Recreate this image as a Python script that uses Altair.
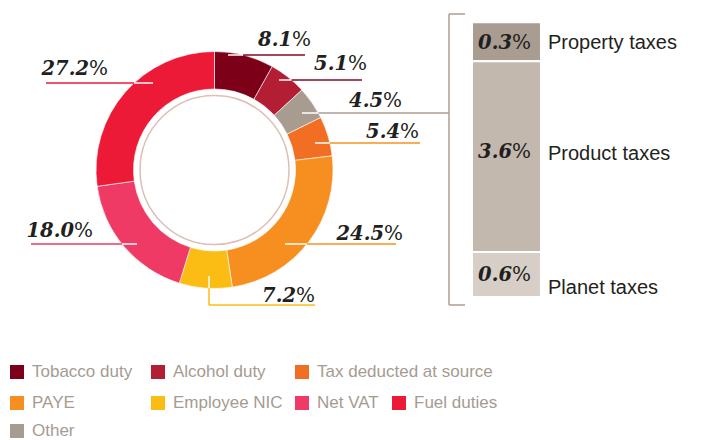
import math
import altair as alt
import pandas as pd

# ---------------- data ----------------
donut_categories = ["Tobacco duty", "Alcohol duty", "Other", "Tax deducted at source",
                    "PAYE", "Employee NIC", "Net VAT", "Fuel duties"]
donut_values = [8.1, 5.1, 4.5, 5.4, 24.5, 7.2, 18.0, 27.2]

other_categories = ["Property taxes", "Product taxes", "Planet taxes"]
other_values = [0.3, 3.6, 0.6]

legend_order = ["Tobacco duty", "Alcohol duty", "Tax deducted at source",
                "PAYE", "Employee NIC", "Net VAT", "Fuel duties", "Other"]

# ---------------- styles / layout ----------------
slice_colors = {
    "Tobacco duty": "#7d0019",
    "Alcohol duty": "#b41e34",
    "Other": "#a89b90",
    "Tax deducted at source": "#f26e22",
    "PAYE": "#f68f1f",
    "Employee NIC": "#fbbd13",
    "Net VAT": "#ee3a64",
    "Fuel duties": "#ed1a37",
}
line_colors = {
    "Tobacco duty": "#860a22",
    "Alcohol duty": "#860a22",
    "Other": "#a89e94",
    "Tax deducted at source": "#f6921e",
    "PAYE": "#f6921e",
    "Employee NIC": "#fbbd13",
    "Net VAT": "#ee3a64",
    "Fuel duties": "#ed1a37",
}
bar_colors = ["#a99c91", "#c2b8ad", "#d7cfc7"]

M = 8  # page margin; layout numbers below are page coordinates
W, H = 690, 432
CX, CY = 214.5 - M, 170 - M
R_OUT, R_IN, R_RING = 118.5, 81, 74.5
NUM_FONT = "DejaVu Serif"
SANS = "Liberation Sans"
DARK = "#231f20"
GREY_TXT = "#a59b92"
GREY_LINE = "#a89e94"

# leader layout: category, side, line y, anchor x, far end x, text right x, text baseline
leaders = [
    ("Tobacco duty", 1, 55, 228, 305, 311, 46),
    ("Alcohol duty", 1, 80, 279, 362, 367, 70),
    ("Other", 1, 113, 302, 449, 402, 107),
    ("Tax deducted at source", 1, 143, 315, 420, 419, 138),
    ("PAYE", 1, 244, 285, 396, 403, 240),
    ("Net VAT", -1, 244, 137, 31, 93, 237),
    ("Fuel duties", -1, 83, 153, 46, 108, 75),
]
nic_layout = dict(x=209, y0=276, y1=305, xend=315, text_right=315, baseline=302)

value_of = dict(zip(donut_categories, donut_values))

# ---------------- donut ----------------
donut_df = pd.DataFrame({
    "cat": donut_categories,
    "value": donut_values,
    "order": list(range(len(donut_categories))),
    "col": [slice_colors[c] for c in donut_categories],
})

arcs = alt.Chart(donut_df).mark_arc(
    outerRadius=R_OUT, innerRadius=R_IN, stroke="white", strokeWidth=0.6
).encode(
    theta=alt.Theta("value:Q", stack=True),
    order=alt.Order("order:Q"),
    color=alt.Color("col:N", scale=None),
    x=alt.value(CX), y=alt.value(CY),
)

ring = alt.Chart(pd.DataFrame({"k": [1]})).mark_point(
    shape="circle", size=(2 * R_RING) ** 2, filled=False,
    stroke="#dcbfb6", strokeWidth=1.5, opacity=1
).encode(x=alt.value(CX), y=alt.value(CY))

# ---------------- leader lines ----------------
rows = []
for cat, side, ly, ax, ex, tr, tb in leaders:
    dy = ly - 170
    exit_x = 214.5 + side * math.sqrt(max(R_OUT ** 2 - dy ** 2, 0))
    rows.append(dict(x1=ax - M, x2=exit_x - M, y1=ly - M, y2=ly - M, c="#ffffff"))
    rows.append(dict(x1=exit_x - M, x2=ex - M, y1=ly - M, y2=ly - M, c=line_colors[cat]))
n = nic_layout
exit_y = 170 + math.sqrt(R_OUT ** 2 - (n["x"] - 214.5) ** 2)
rows.append(dict(x1=n["x"] - M, x2=n["x"] - M, y1=n["y0"] - M, y2=exit_y - M, c="#ffffff"))
rows.append(dict(x1=n["x"] - M, x2=n["x"] - M, y1=exit_y - M, y2=n["y1"] - M, c=line_colors["Employee NIC"]))
rows.append(dict(x1=n["x"] - M, x2=n["xend"] - M, y1=n["y1"] - M, y2=n["y1"] - M, c=line_colors["Employee NIC"]))
# bracket
rows.append(dict(x1=449 - M, x2=449 - M, y1=14 - M, y2=305 - M, c=GREY_LINE))
rows.append(dict(x1=449 - M, x2=465 - M, y1=14 - M, y2=14 - M, c=GREY_LINE))
rows.append(dict(x1=449 - M, x2=465 - M, y1=305 - M, y2=305 - M, c=GREY_LINE))
lines_df = pd.DataFrame(rows)

lines = alt.Chart(lines_df).mark_rule(strokeWidth=1.5).encode(
    x=alt.X("x1:Q", scale=None, axis=None), x2="x2:Q",
    y=alt.Y("y1:Q", scale=None, axis=None), y2="y2:Q",
    color=alt.Color("c:N", scale=None),
)

# ---------------- donut labels ----------------
PCT_W = 19
lab_rows = []
for cat, side, ly, ax, ex, tr, tb in leaders:
    lab_rows.append(dict(num=f"{value_of[cat]:.1f}", x=tr - M, y=tb - M))
lab_rows.append(dict(num=f"{value_of['Employee NIC']:.1f}", x=n["text_right"] - M, y=n["baseline"] - M))
lab_df = pd.DataFrame(lab_rows)
lab_df["xn"] = lab_df["x"] - PCT_W

num_text = alt.Chart(lab_df).mark_text(
    font=NUM_FONT, fontSize=19.5, fontWeight="bold", fontStyle="italic",
    align="right", baseline="alphabetic", color=DARK
).encode(x=alt.X("xn:Q", scale=None, axis=None), y=alt.Y("y:Q", scale=None, axis=None), text="num:N")

pct_text = alt.Chart(lab_df).mark_text(
    font=NUM_FONT, fontSize=20, align="right", baseline="alphabetic", color=DARK
).encode(x=alt.X("x:Q", scale=None, axis=None), y=alt.Y("y:Q", scale=None, axis=None), text=alt.value("%"))

# ---------------- stacked bar (Other breakdown) ----------------
ends, starts = [], []
acc = sum(other_values)
for v in other_values:
    ends.append(acc)
    starts.append(acc - v)
    acc -= v
bar_df = pd.DataFrame({
    "cat": other_categories,
    "value": other_values,
    "start": starts,
    "end": ends,
    "col": bar_colors,
})
bar_df["mid"] = (bar_df["start"] + bar_df["end"]) / 2
bar_df["num"] = bar_df["value"].map(lambda v: f"{v:.1f}")

tot = sum(other_values)
bar_scale = alt.Scale(
    domain=[0, other_values[2], other_values[2] + other_values[1], tot],
    range=[297 - M, 252 - M, 61.2 - M, 22.3 - M],
    nice=False, zero=False,
)

bars = alt.Chart(bar_df).mark_bar(stroke="white", strokeWidth=2).encode(
    x=alt.value(472 - M), x2=alt.value(541 - M),
    y=alt.Y("start:Q", scale=bar_scale, axis=None), y2="end:Q",
    color=alt.Color("col:N", scale=None),
)

num_dy = [1, -5, 0]
side_dy = [1, -3, 13]
bar_layers = []
for i in range(len(other_categories)):
    sub = bar_df.iloc[i:i + 1]
    bar_layers.append(alt.Chart(sub).mark_text(
        font=NUM_FONT, fontSize=19.5, fontWeight="bold", fontStyle="italic",
        align="right", baseline="middle", color=DARK, dy=num_dy[i]
    ).encode(x=alt.value(531 - M - PCT_W), y=alt.Y("mid:Q", scale=bar_scale, axis=None), text="num:N"))
    bar_layers.append(alt.Chart(sub).mark_text(
        font=NUM_FONT, fontSize=20, align="right", baseline="middle", color=DARK, dy=num_dy[i]
    ).encode(x=alt.value(531 - M), y=alt.Y("mid:Q", scale=bar_scale, axis=None), text=alt.value("%")))
    bar_layers.append(alt.Chart(sub).mark_text(
        font=SANS, fontSize=20, align="left", baseline="middle", color=DARK, dy=side_dy[i]
    ).encode(x=alt.value(548 - M), y=alt.Y("mid:Q", scale=bar_scale, axis=None), text="cat:N"))

# ---------------- custom legend ----------------
legend_cols = [10, 151, 295, 392]
legend_rows = [372, 403, 431]
legend_slots = [(0, 0), (0, 1), (0, 2), (1, 0), (1, 1), (1, 2), (1, 3), (2, 0)]
leg_df = pd.DataFrame({
    "cat": legend_order,
    "col": [slice_colors[c] for c in legend_order],
    "sx": [legend_cols[c] + 7 - M for r, c in legend_slots],
    "tx": [legend_cols[c] + 22 - M for r, c in legend_slots],
    "y": [legend_rows[r] - M for r, c in legend_slots],
})

leg_sym = alt.Chart(leg_df).mark_square(size=196, opacity=1).encode(
    x=alt.X("sx:Q", scale=None, axis=None), y=alt.Y("y:Q", scale=None, axis=None),
    color=alt.Color("col:N", scale=None),
)
leg_txt = alt.Chart(leg_df).mark_text(
    font=SANS, fontSize=17, align="left", baseline="middle", color=GREY_TXT
).encode(x=alt.X("tx:Q", scale=None, axis=None), y=alt.Y("y:Q", scale=None, axis=None), text="cat:N")

chart = alt.layer(
    arcs, ring, lines, num_text, pct_text,
    bars, *bar_layers,
    leg_sym, leg_txt,
).resolve_scale(
    x="independent", y="independent", color="independent", theta="independent"
).properties(
    width=W, height=H, autosize="none", padding=0
).configure_view(stroke=None)

chart.save("out.html", embed_options={"renderer": "svg", "actions": False})
